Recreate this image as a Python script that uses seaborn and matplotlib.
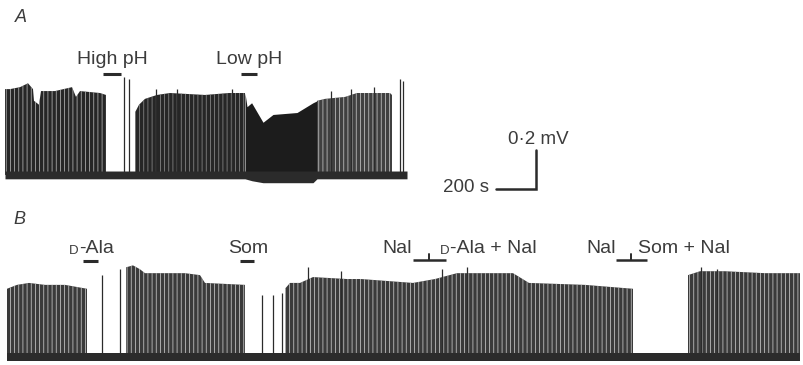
import numpy as np
import matplotlib
matplotlib.use("Agg")
import matplotlib.pyplot as plt
import seaborn as sns

# time in s, amplitude in mV (200 s / 0.2 mV bars)
# --- trace A: pH ---
a_burst1_t = [0, 25, 75, 115, 140, 145, 170, 180, 250, 335, 355, 375, 475, 505]
a_burst1_v = [0.44, 0.44, 0.45, 0.47, 0.44, 0.38, 0.36, 0.43, 0.43, 0.45, 0.40, 0.43, 0.42, 0.41]
a_burst2_t = [650, 670, 700, 760, 825, 1000, 1120, 1200]
a_burst2_v = [0.32, 0.36, 0.39, 0.41, 0.42, 0.41, 0.42, 0.42]
a_solid_t = [1200, 1210, 1233, 1290, 1340, 1460, 1540, 1560]
a_solid_v = [0.42, 0.35, 0.37, 0.27, 0.31, 0.32, 0.37, 0.38]
a_sparse_t = [1560, 1600, 1700, 1760, 1925, 1935]
a_sparse_v = [0.38, 0.39, 0.40, 0.42, 0.42, 0.41]
a_spike_t = [595, 620, 755, 860, 1135, 1630, 1730, 1845, 1975, 1990]
a_spike_v = [0.50, 0.49, 0.44, 0.44, 0.44, 0.43, 0.44, 0.45, 0.49, 0.48]
a_base_t = [0, 1200, 1235, 1290, 1540, 1560, 2010]
a_base_low = [-0.02, -0.02, -0.03, -0.04, -0.04, -0.02, -0.02]

# --- trace B: opioids ---
b_burst_t = [
    [10, 60, 120, 200, 300, 410],
    [605, 640, 675, 700, 900, 975, 1000, 1200],
    [1400, 1425, 1475, 1540, 1710, 1780, 2040, 2150, 2260, 2540,
     2620, 2900, 3140],
    [3415, 3475, 3600, 3800, 3975],
]
b_burst_v = [
    [0.35, 0.37, 0.38, 0.37, 0.37, 0.35],
    [0.46, 0.47, 0.45, 0.43, 0.43, 0.42, 0.38, 0.37],
    [0.35, 0.38, 0.38, 0.41, 0.40, 0.40, 0.38, 0.40, 0.43, 0.43,
     0.38, 0.37, 0.35],
    [0.42, 0.44, 0.44, 0.43, 0.43],
]
b_spike_t = [485, 575, 1285, 1340, 1385, 1515, 1680, 2185, 2310, 3480, 3560]
b_spike_v = [0.42, 0.45, 0.32, 0.32, 0.33, 0.46, 0.44, 0.45, 0.46, 0.46, 0.45]

# drug application bars (start, end) in s
a_pulses = [("High pH", 490, 580), ("Low pH", 1180, 1260)]
b_pulses = [(390, 465), (1175, 1245)]
b_nal = [(2040, 2205), (3055, 3210)]

ink = "#2b2b2b"
txt = "#3c3c3c"

sns.set_theme(style="white")
plt.rcParams["font.family"] = ["Liberation Sans", "DejaVu Sans"]
plt.rcParams["hatch.linewidth"] = 0.55

fig = plt.figure(figsize=(8.04, 3.65), dpi=100)
axA = fig.add_axes([0, 170 / 365, 1, 195 / 365])
axB = fig.add_axes([0, 0, 1, 170 / 365])
for ax in (axA, axB):
    ax.set_xlim(-25, 3995)
    ax.set_axis_off()
axA.set_ylim(-0.103, 0.897)
axB.set_ylim(-0.041, 0.831)


def burst(ax, t, v, face="#333333", lines="#b4b4b4"):
    ax.fill_between(t, 0, v, facecolor=face, edgecolor=lines,
                    hatch="||||", linewidth=0, zorder=2)


# trace A
burst(axA, a_burst1_t, a_burst1_v, face="#262626")
burst(axA, a_burst2_t, a_burst2_v, face="#262626", lines="#8a8a8a")
axA.fill_between(a_solid_t, 0, a_solid_v, facecolor="#1c1c1c", lw=0, zorder=2)
burst(axA, a_sparse_t, a_sparse_v, face="#404040", lines="#c4c4c4")
axA.vlines(a_spike_t, 0, a_spike_v, color=ink, lw=0.9, zorder=3)
axA.fill_between(a_base_t, a_base_low, 0.02, color=ink, lw=0, zorder=4)

axA.text(50, 0.808, "A", fontsize=13, style="italic", color=txt, va="center")
for name, t0, t1 in a_pulses:
    axA.plot([t0, t1], [0.52, 0.52], color=ink, lw=2.2, solid_capstyle="butt")
    axA.text((t0 + t1) / 2, 0.55, name, fontsize=14, color=txt,
             ha="center", va="bottom")

# scale bar: 200 s x 0.2 mV
axA.plot([2455, 2655, 2655], [-0.072, -0.072, 0.128], color=ink, lw=1.8,
         solid_joinstyle="miter")
axA.text(2665, 0.14, "0·2 mV", fontsize=13.5, color=txt, ha="center", va="bottom")
axA.text(2420, -0.066, "200 s", fontsize=13.5, color=txt, ha="right", va="center")

# trace B
for t, v in zip(b_burst_t, b_burst_v):
    burst(axB, t, v, face="#3a3a3a", lines="#c8c8c8")
axB.vlines(b_spike_t, 0, b_spike_v, color=ink, lw=0.9, zorder=3)
axB.fill_between([10, 3975], -0.02, 0.022, color=ink, lw=0, zorder=4)

axB.text(40, 0.705, "B", fontsize=13, style="italic", color=txt, va="center")
for t0, t1 in b_pulses:
    axB.plot([t0, t1], [0.49, 0.49], color=ink, lw=2.2, solid_capstyle="butt")
for t0, t1 in b_nal:
    mid = (t0 + t1) / 2
    axB.plot([t0, t1], [0.50, 0.50], color=ink, lw=1.8, solid_capstyle="butt")
    axB.plot([mid, mid], [0.50, 0.53], color=ink, lw=1.4)

lab_y = 0.515
axB.text(320, lab_y, "D", fontsize=9.5, color=txt, ha="left", va="bottom")
axB.text(370, lab_y, "-Ala", fontsize=14, color=txt, ha="left", va="bottom")
axB.text(1215, lab_y, "Som", fontsize=14, color=txt, ha="center", va="bottom")
axB.text(2035, lab_y, "Nal", fontsize=14, color=txt, ha="right", va="bottom")
axB.text(2175, lab_y, "D", fontsize=9.5, color=txt, ha="left", va="bottom")
axB.text(2225, lab_y, "-Ala + Nal", fontsize=14, color=txt, ha="left", va="bottom")
axB.text(3055, lab_y, "Nal", fontsize=14, color=txt, ha="right", va="bottom")
axB.text(3165, lab_y, "Som + Nal", fontsize=14, color=txt, ha="left", va="bottom")

fig.savefig("out.png", dpi=100)
